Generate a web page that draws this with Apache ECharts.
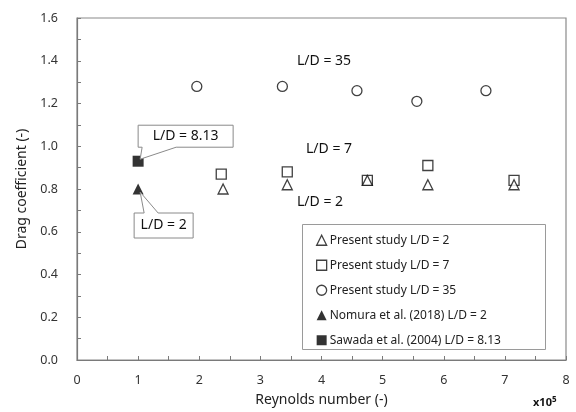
<!DOCTYPE html>
<html>
<head>
<meta charset="utf-8">
<script src="https://cdn.jsdelivr.net/npm/echarts@6/dist/echarts.min.js"></script>
<style>
  html, body { margin: 0; padding: 0; background: #fff; }
  #chart { width: 576px; height: 412px; }
</style>
</head>
<body>
<div id="chart"></div>
<script>
// Reynolds number (x10^5) and drag coefficient
const re2 = [2.39, 3.44, 4.75, 5.74, 7.15];
const cd2 = [0.80, 0.82, 0.84, 0.82, 0.82];
const re7 = [2.36, 3.44, 4.75, 5.74, 7.15];
const cd7 = [0.87, 0.88, 0.84, 0.91, 0.84];
const re35 = [1.96, 3.36, 4.58, 5.56, 6.69];
const cd35 = [1.28, 1.28, 1.26, 1.21, 1.26];
const nomura = [[1.0, 0.80]];
const sawada = [[1.0, 0.93]];

const names = [
  'Present study L/D = 2',
  'Present study L/D = 7',
  'Present study L/D = 35',
  'Nomura et al. (2018) L/D = 2',
  'Sawada et al. (2004) L/D = 8.13'
];

const font = 'Noto Sans';
const pair = (xs, ys) => xs.map((x, i) => [x, ys[i]]);

const chart = echarts.init(document.getElementById('chart'));

const hollow = { color: '#fff', borderColor: '#111', borderWidth: 1.3 };

const option = {
  animation: false,
  grid: { left: 77, right: 10, top: 18, bottom: 52, show: true, borderColor: '#8a8a8a', borderWidth: 1.2 },
  xAxis: {
    type: 'value', min: 0, max: 8, interval: 1,
    name: 'Reynolds number (-)', nameLocation: 'middle', nameGap: 33,
    nameTextStyle: { fontFamily: font, fontSize: 14, color: '#222' },
    axisLine: { lineStyle: { color: '#7a7a7a', width: 1.2 } },
    axisTick: { inside: true, length: 4, lineStyle: { color: '#7a7a7a' } },
    minorTick: { show: true, splitNumber: 2, length: 4, lineStyle: { color: '#7a7a7a' } },
    splitLine: { show: false },
    axisLabel: { fontFamily: font, fontSize: 12.5, color: '#333', margin: 14 }
  },
  yAxis: {
    type: 'value', min: 0, max: 1.6, interval: 0.2,
    name: 'Drag coefficient (-)', nameLocation: 'middle', nameGap: 46,
    nameTextStyle: { fontFamily: font, fontSize: 14, color: '#222' },
    axisLine: { show: true, lineStyle: { color: '#7a7a7a', width: 1.2 } },
    axisTick: { show: true, inside: true, length: 4, lineStyle: { color: '#7a7a7a' } },
    minorTick: { show: true, splitNumber: 2, length: 4, lineStyle: { color: '#7a7a7a' } },
    splitLine: { show: false },
    axisLabel: { fontFamily: font, fontSize: 12.5, color: '#333', margin: 19, formatter: v => v.toFixed(1) }
  },
  legend: {
    orient: 'vertical', left: 302, top: 224,
    padding: [8, 10, 7, 14],
    itemWidth: 10, itemHeight: 10, itemGap: 8.5,
    textStyle: { fontFamily: font, fontSize: 12, color: '#222', lineHeight: 16.5, padding: [0, 0, 0, -2] },
    data: names.map(n => ({ name: n, itemStyle: n.startsWith('Present') ? hollow : { color: '#000' } }))
  },
  series: [
    { name: names[0], type: 'scatter', symbol: 'triangle', symbolSize: 10, itemStyle: hollow, data: pair(re2, cd2), z: 3 },
    { name: names[1], type: 'scatter', symbol: 'rect', symbolSize: 10, itemStyle: hollow, data: pair(re7, cd7), z: 2 },
    { name: names[2], type: 'scatter', symbol: 'circle', symbolSize: 10, itemStyle: hollow, data: pair(re35, cd35) },
    { name: names[3], type: 'scatter', symbol: 'triangle', symbolSize: 11, itemStyle: { color: '#000' }, data: nomura },
    { name: names[4], type: 'scatter', symbol: 'rect', symbolSize: 11, itemStyle: { color: '#000' }, data: sawada }
  ]
};
chart.setOption(option);

// callout shapes anchored on the literature points
function callout(pt, box, base, text) {
  const [px, py] = chart.convertToPixel('grid', pt);
  const x0 = px + box[0], y0 = py + box[1], x1 = x0 + box[2], y1 = y0 + box[3];
  const tip = [px + 2, py + (base.top ? 3 : -2)];
  let pts;
  if (base.top) {
    pts = [[x0, y0], [px + base.a, y0], tip, [px + base.b, y0], [x1, y0], [x1, y1], [x0, y1]];
  } else {
    pts = [[x0, y0], [x1, y0], [x1, y1], [px + base.b, y1], tip, [px + base.a, y1], [x0, y1]];
  }
  return [
    { type: 'polygon', shape: { points: pts }, style: { fill: '#fff', stroke: '#8a8a8a', lineWidth: 1 }, z: 10 },
    { type: 'text', x: (x0 + x1) / 2, y: (y0 + y1) / 2, z: 11,
      style: { text: text, fontFamily: font, fontSize: 14, fill: '#111', align: 'center', verticalAlign: 'middle' } }
  ];
}

const graphics = [].concat(
  // legend frame
  [{ type: 'rect', shape: { x: 302.5, y: 224.5, width: 243, height: 125 },
     style: { fill: '#fff', stroke: '#9a9a9a', lineWidth: 1 }, z: 0, silent: true }],
  callout(sawada[0], [0, -36, 95, 22], { top: false, a: 4, b: 38 }, 'L/D = 8.13'),
  callout(nomura[0], [-4, 24, 59, 25], { top: true, a: 6, b: 20 }, 'L/D = 2'),
  [
    { type: 'text', x: 297, y: 54, style: { text: 'L/D = 35', fontFamily: font, fontSize: 14, fill: '#111' } },
    { type: 'text', x: 306, y: 142, style: { text: 'L/D = 7', fontFamily: font, fontSize: 14, fill: '#111' } },
    { type: 'text', x: 297, y: 195, style: { text: 'L/D = 2', fontFamily: font, fontSize: 14, fill: '#111' } },
    { type: 'text', x: 533, y: 396, style: {
        text: '{b|x10}{s|5}', fontFamily: font,
        rich: { b: { fontSize: 11, fontWeight: 'bold', fill: '#111', fontFamily: font },
                s: { fontSize: 8, fontWeight: 'bold', fill: '#111', fontFamily: font, verticalAlign: 'top', padding: [0, 0, 6, 0] } } } }
  ]
);
chart.setOption({ graphic: graphics });
</script>
</body>
</html>
